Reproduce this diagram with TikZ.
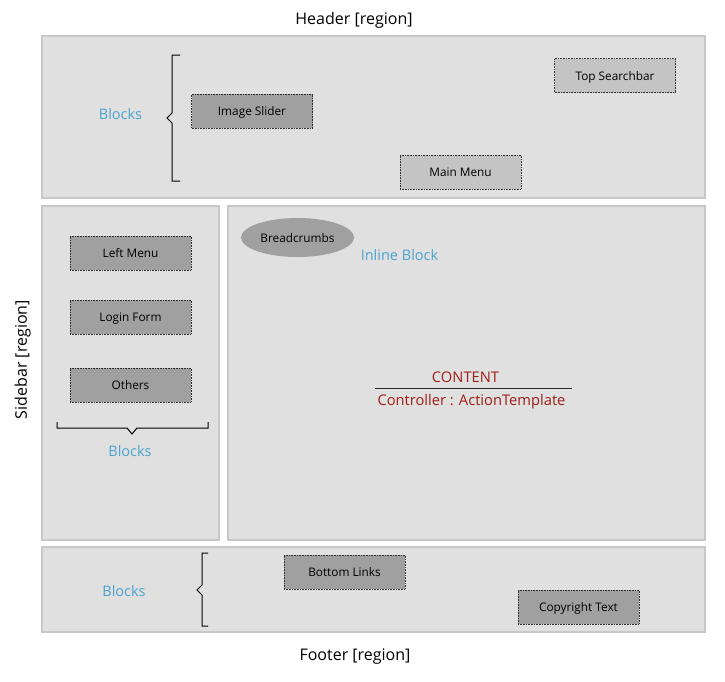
\documentclass[tikz,border=0pt]{standalone}
\usepackage{fontspec}
\setmainfont{Open Sans}
\usetikzlibrary{shapes.geometric}
\definecolor{regfill}{HTML}{E0E0E0}
\definecolor{regdraw}{HTML}{C8C8C8}
\definecolor{darkbox}{HTML}{A0A0A0}
\definecolor{lightbox}{HTML}{C4C4C4}
\definecolor{blockblue}{HTML}{4BA3CE}
\definecolor{contentred}{HTML}{A01E16}
\tikzset{
  region/.style={fill=regfill, draw=regdraw, line width=1.4pt},
  boxfont/.style={font=\fontsize{11.8}{14}\selectfont, text height=0.9em, text depth=0pt},
  blk/.style={draw=black!80, densely dotted, line width=0.6pt, minimum width=121pt, minimum height=34pt, inner sep=0pt, boxfont},
  darkblk/.style={blk, fill=darkbox},
  lightblk/.style={blk, fill=lightbox},
  regionlabel/.style={font=\fontsize{16}{19}\selectfont, text=black, anchor=base, inner sep=0pt},
  bluelabel/.style={font=\fontsize{14.5}{17}\selectfont, text=blockblue, anchor=base, inner sep=0pt},
  redlabel/.style={font=\fontsize{14.7}{17}\selectfont, text=contentred, anchor=base, inner sep=0pt},
  bracepath/.style={draw=black, line width=1pt},
}
\begin{document}
\begin{tikzpicture}[x=1pt,y=-1pt]
\useasboundingbox (0,0) rectangle (725,681);
% regions
\draw[region] (42,36) rectangle (705,198);
\draw[region] (42,206) rectangle (219,540);
\draw[region] (228,206) rectangle (705,540);
\draw[region] (42,547) rectangle (705,632);
% region labels
\node[regionlabel] (hdr) at (354,24) {Header [region]};
\node[regionlabel] (ftr) at (355,660) {Footer [region]};
\node[regionlabel, rotate=90] (sbr) at (27,359.5) {Sidebar [region]};
% header
\node[bluelabel] (hblocks) at (120.5,119) {Blocks};
\draw[bracepath] (180,55) -- (172,55) -- (172,113) -- (167,118) -- (172,123) -- (172,181) -- (180,181);
\node[darkblk] (slider) at (252,111) {Image Slider};
\node[lightblk] (search) at (615,75.5) {Top Searchbar};
\node[lightblk] (mainmenu) at (460.5,172) {Main Menu};
% sidebar
\node[darkblk] (leftmenu) at (130.5,253) {Left Menu};
\node[darkblk] (login) at (130.5,317) {Login Form};
\node[darkblk] (others) at (130.5,385) {Others};
\draw[bracepath] (57,422) -- (57,428) -- (127,428) -- (132,434) -- (137,428) -- (208,428) -- (208,422);
\node[bluelabel] (sblocks) at (130,456) {Blocks};
% content
\node[ellipse, fill=darkbox, minimum width=113pt, minimum height=39pt, inner sep=0pt, boxfont] (bread) at (297.5,237.5) {Breadcrumbs};
\node[bluelabel] (inline) at (399.5,260) {Inline Block};
\node[redlabel] (content) at (465.5,382) {CONTENT};
\node[redlabel] (ctrl) at (471.5,405) {Controller : ActionTemplate};
\coordinate (ruleL) at (375,388.5);
\coordinate (ruleR) at (572,388.5);
\draw[black!85, line width=0.8pt] (ruleL) -- (ruleR);
% footer
\node[bluelabel] (fblocks) at (124,596) {Blocks};
\draw[bracepath] (208,553) -- (202,553) -- (202,585) -- (197,590) -- (202,595) -- (202,626) -- (208,626);
\node[darkblk] (bottomlinks) at (344.5,572) {Bottom Links};
\node[darkblk] (copyright) at (578.5,607) {Copyright Text};
\end{tikzpicture}
\end{document}
